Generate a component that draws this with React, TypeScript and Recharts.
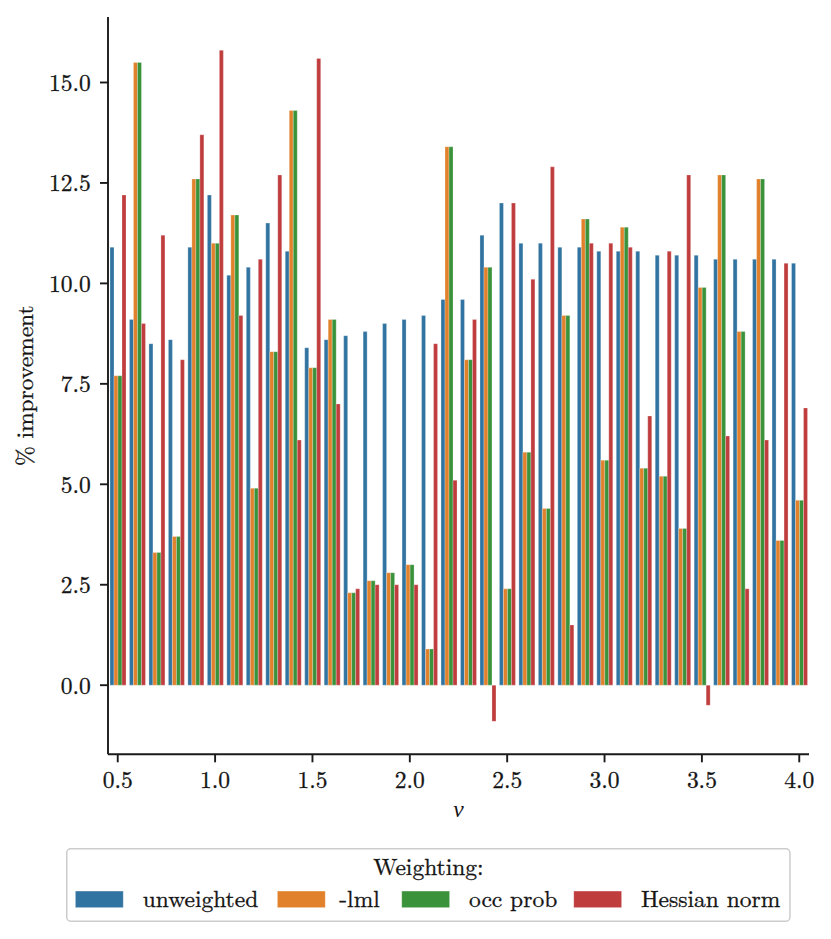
import React from 'react';
import { BarChart, Bar, XAxis, YAxis, Legend } from 'recharts';

const nuLabels = [
  '0.5', '0.6', '0.7', '0.8', '0.9', '1.0', '1.1', '1.2', '1.3', '1.4',
  '1.5', '1.6', '1.7', '1.8', '1.9', '2.0', '2.1', '2.2', '2.3', '2.4',
  '2.5', '2.6', '2.7', '2.8', '2.9', '3.0', '3.1', '3.2', '3.3', '3.4',
  '3.5', '3.6', '3.7', '3.8', '3.9', '4.0',
];

const unweighted = [
  10.9, 9.1, 8.5, 8.6, 10.9, 12.2, 10.2, 10.4, 11.5, 10.8,
  8.4, 8.6, 8.7, 8.8, 9.0, 9.1, 9.2, 9.6, 9.6, 11.2,
  12.0, 11.0, 11.0, 10.9, 10.9, 10.8, 10.8, 10.8, 10.7, 10.7,
  10.7, 10.6, 10.6, 10.6, 10.6, 10.5,
];

const negLml = [
  7.7, 15.5, 3.3, 3.7, 12.6, 11.0, 11.7, 4.9, 8.3, 14.3,
  7.9, 9.1, 2.3, 2.6, 2.8, 3.0, 0.9, 13.4, 8.1, 10.4,
  2.4, 5.8, 4.4, 9.2, 11.6, 5.6, 11.4, 5.4, 5.2, 3.9,
  9.9, 12.7, 8.8, 12.6, 3.6, 4.6,
];

const occProb = [
  7.7, 15.5, 3.3, 3.7, 12.6, 11.0, 11.7, 4.9, 8.3, 14.3,
  7.9, 9.1, 2.3, 2.6, 2.8, 3.0, 0.9, 13.4, 8.1, 10.4,
  2.4, 5.8, 4.4, 9.2, 11.6, 5.6, 11.4, 5.4, 5.2, 3.9,
  9.9, 12.7, 8.8, 12.6, 3.6, 4.6,
];

const hessianNorm = [
  12.2, 9.0, 11.2, 8.1, 13.7, 15.8, 9.2, 10.6, 12.7, 6.1,
  15.6, 7.0, 2.4, 2.5, 2.5, 2.5, 8.5, 5.1, 9.1, -0.9,
  12.0, 10.1, 12.9, 1.5, 11.0, 11.0, 10.9, 6.7, 10.8, 12.7,
  -0.5, 6.2, 2.4, 6.1, 10.5, 6.9,
];

const yTicks = [0, 2.5, 5, 7.5, 10, 12.5, 15];
const seriesKeys = ['unweighted', 'lml', 'occ', 'hessian'];
const seriesNames = ['unweighted', '-lml', 'occ prob', 'Hessian norm'];
const seriesColors = ['#3274a1', '#e1812c', '#3a923a', '#c03d3e'];
const legendTitle = 'Weighting:';
const xLabel = 'ν';
const yLabel = '% improvement';

const data = nuLabels.map((nu, i) => ({
  nu,
  unweighted: unweighted[i],
  lml: negLml[i],
  occ: occProb[i],
  hessian: hessianNorm[i],
}));

const FONT = "'Latin Modern Roman', 'Liberation Serif'";
const TEXT = '#141414';
const AXIS = '#1a1a1a';
const FS = 23.5;
const textStyle = { fontFamily: FONT, fontSize: FS, fill: TEXT, stroke: TEXT, strokeWidth: 0.3 };

const patchX = [9.3, 211.3, 335.7, 507.7];
const labelX = [76.7, 273.3, 403, 575];

const renderLegend = () => (
  <svg width={725} height={74} style={{ display: 'block', overflow: 'visible' }}>
    <rect x={0.75} y={0.75} width={723.2} height={72.5} rx={4} ry={4} fill="#ffffff" stroke="#cccccc" strokeWidth={1.5} />
    <text x={362.4} y={27.3} textAnchor="middle" fontFamily={FONT} fontSize={FS} fill={TEXT} style={textStyle}>
      {legendTitle}
    </text>
    {seriesNames.map((n, i) => (
      <g key={n}>
        <rect x={patchX[i]} y={43} width={48} height={16.7} fill={seriesColors[i]} stroke="#ffffff" strokeOpacity={0.5} strokeWidth={0.8} />
        <text x={labelX[i]} y={59} fontFamily={FONT} fontSize={FS} fill={TEXT} style={textStyle}>
          {n}
        </text>
      </g>
    ))}
  </svg>
);

const XAxisLabel = (props: any) => {
  const vb = (props && props.viewBox) || { x: 108, y: 754.3, width: 701, height: 60 };
  return (
    <text
      x={vb.x + vb.width / 2}
      y={vb.y + 63}
      textAnchor="middle"
      fontFamily="'Liberation Serif'"
      fontStyle="italic"
      fontSize={FS}
      fill={TEXT}
      style={{ fontFamily: "'Liberation Serif'", fontStyle: 'italic', fontSize: FS, fill: TEXT }}
    >
      {xLabel}
    </text>
  );
};

const YAxisLabel = (props: any) => {
  const vb = (props && props.viewBox) || { x: 48, y: 17, width: 60, height: 737.3 };
  const cx = 33.5;
  const cy = vb.y + vb.height / 2;
  return (
    <text x={cx} y={cy} textAnchor="middle" transform={`rotate(-90, ${cx}, ${cy})`} fontFamily={FONT} fontSize={FS} fill={TEXT} style={textStyle}>
      {yLabel}
    </text>
  );
};

export default function App() {
  return (
    <div style={{ position: 'absolute', left: 0, top: 0, width: 831, height: 939, background: '#ffffff', fontFamily: FONT }}>
      <BarChart
        width={831}
        height={939}
        data={data}
        margin={{ top: 17, right: 22, left: 48, bottom: 124.7 }}
        barGap={0}
        barSize={4}
        style={{ fontFamily: FONT }}
      >
        <XAxis
          dataKey="nu"
          type="category"
          interval={4}
          height={60}
          tickSize={8}
          tickMargin={9.5}
          axisLine={{ stroke: AXIS, strokeWidth: 1.9 }}
          tickLine={{ stroke: AXIS, strokeWidth: 1.9 }}
          tick={{ ...textStyle, style: textStyle }}
          label={XAxisLabel}
        />
        <YAxis
          type="number"
          width={60}
          domain={[-1.72, 16.63]}
          allowDataOverflow
          ticks={yTicks}
          interval={0}
          tickFormatter={(v: number) => v.toFixed(1)}
          tickSize={8}
          tickMargin={9.3}
          axisLine={{ stroke: AXIS, strokeWidth: 1.9 }}
          tickLine={{ stroke: AXIS, strokeWidth: 1.9 }}
          tick={{ ...textStyle, style: textStyle }}
          label={YAxisLabel}
        />
        <Legend
          layout="horizontal"
          verticalAlign="middle"
          align="center"
          content={renderLegend}
          wrapperStyle={{ top: 847.7, left: 66, width: 725, height: 74 }}
        />
        {seriesKeys.map((k, i) => (
          <Bar
            key={k}
            dataKey={k}
            name={seriesNames[i]}
            fill={seriesColors[i]}
            stroke="#ffffff"
            strokeOpacity={0.5}
            strokeWidth={0.5}
            barSize={4}
            isAnimationActive={false}
          />
        ))}
      </BarChart>
    </div>
  );
}
